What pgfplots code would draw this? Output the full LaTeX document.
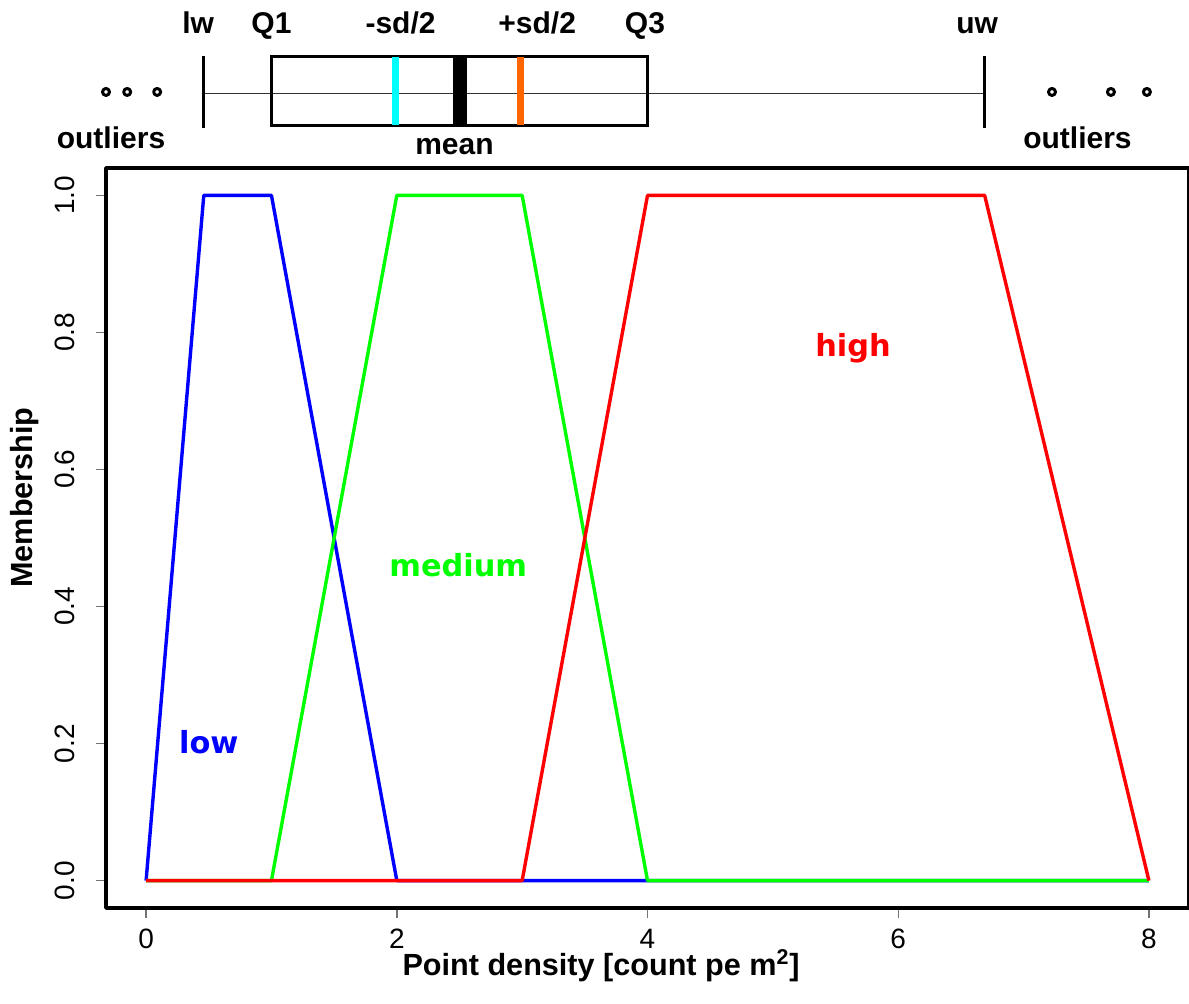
\documentclass[border=0pt]{standalone}
\usepackage{fontspec}
\setmainfont{Liberation Sans}
\newfontfamily\dejavu{DejaVu Sans}
\usepackage{pgfplots}
\pgfplotsset{compat=1.18}
\definecolor{cyanR}{RGB}{0,255,255}
\definecolor{orangeR}{RGB}{255,102,0}
\definecolor{greenR}{RGB}{0,255,0}
\definecolor{blueR}{RGB}{0,0,255}
\definecolor{redR}{RGB}{255,0,0}
\tikzset{
  toplab/.style={font=\fontsize{15}{18}\selectfont\bfseries, inner sep=0pt, anchor=base},
  mflab/.style={font=\fontsize{15.2}{18}\selectfont\dejavu\bfseries, inner sep=0pt, anchor=base},
}
\begin{document}
\begin{tikzpicture}
\begin{axis}[
  name=main,
  scale only axis, width=541.5pt, height=370pt,
  xmin=-0.32, xmax=8.32, ymin=-0.04, ymax=1.04,
  clip=false,
  axis line style={line width=1.8pt, black},
  tick align=outside, major tick length=5pt,
  every tick/.style={black!55, line width=0.7pt},
  xtick={0,2,4,6,8}, ytick={0,0.2,0.4,0.6,0.8,1},
  xtick pos=bottom, ytick pos=left,
  yticklabels={0.0,0.2,0.4,0.6,0.8,1.0},
  ticklabel style={font=\fontsize{14}{16}\selectfont},
  xticklabel style={anchor=north, inner sep=0pt},
  yticklabel style={rotate=90, anchor=south, inner sep=0pt},
  xticklabel shift=5.5pt, yticklabel shift=10.5pt,
  /pgf/number format/assume math mode=true,
  line join=round,
]
% membership functions
\addplot[blueR, line width=1.7pt] coordinates {(0,0)(0.46,1)(1,1)(2,0)(8,0)};
\addplot[greenR, line width=1.7pt] coordinates {(0,0)(1,0)(2,1)(3,1)(4,0)(8,0)};
\addplot[redR, line width=1.7pt] coordinates {(0,0)(3,0)(4,1)(6.69,1)(8,0)};

\node[mflab, text=blueR] at (axis cs:0.50,0.185) {low};
\node[mflab, text=greenR] at (axis cs:2.49,0.444) {medium};
\node[mflab, text=redR] at (axis cs:5.64,0.765) {high};

% boxplot above the axis
\addplot[black!80, line width=0.8pt] coordinates {(0.46,1.149)(6.69,1.149)};
\addplot[black, line width=1.5pt, line join=miter] coordinates {(1,1.1022)(4,1.1022)(4,1.2034)(1,1.2034)} -- cycle;
\addplot[black, line width=1.5pt] coordinates {(0.46,1.098)(0.46,1.203)};
\addplot[black, line width=1.5pt] coordinates {(6.69,1.098)(6.69,1.203)};
\addplot[cyanR, line width=3.5pt] coordinates {(1.99,1.1032)(1.99,1.2024)};
\addplot[orangeR, line width=3.5pt] coordinates {(2.99,1.1032)(2.99,1.2024)};
\addplot[black, line width=7pt] coordinates {(2.502,1.1032)(2.502,1.2024)};
\addplot[only marks, mark=o, mark size=1.75pt, mark options={line width=1.5pt, black}]
  coordinates {(-0.32,1.151)(-0.151,1.151)(0.088,1.151)(7.227,1.151)(7.697,1.151)(7.984,1.151)};

\node[toplab] at (axis cs:0.415,1.2365) {lw};
\node[toplab] at (axis cs:1.0,1.2365) {Q1};
\node[toplab] at (axis cs:2.03,1.2365) {-sd/2};
\node[toplab] at (axis cs:3.12,1.2365) {+sd/2};
\node[toplab] at (axis cs:3.98,1.2365) {Q3};
\node[toplab] at (axis cs:6.63,1.2365) {uw};
\node[toplab] at (axis cs:2.46,1.060) {mean};
\node[toplab] at (axis cs:-0.28,1.068) {outliers};
\node[toplab] at (axis cs:7.43,1.068) {outliers};

% axis labels
\node[font=\fontsize{15.3}{18}\selectfont\bfseries, anchor=base, inner sep=0pt]
  at ([yshift=-33.5pt]axis cs:3.63,-0.04) {Point density [count pe m\textsuperscript{2}]};
\node[font=\fontsize{15.3}{18}\selectfont\bfseries, anchor=base, inner sep=0pt, rotate=90]
  at ([xshift=-36.5pt]axis cs:-0.32,0.559) {Membership};
\end{axis}
\pgfresetboundingbox
\path[use as bounding box] ([xshift=-53pt,yshift=-47.5pt]main.south west) rectangle ([yshift=84pt]main.north east);
\end{tikzpicture}
\end{document}
